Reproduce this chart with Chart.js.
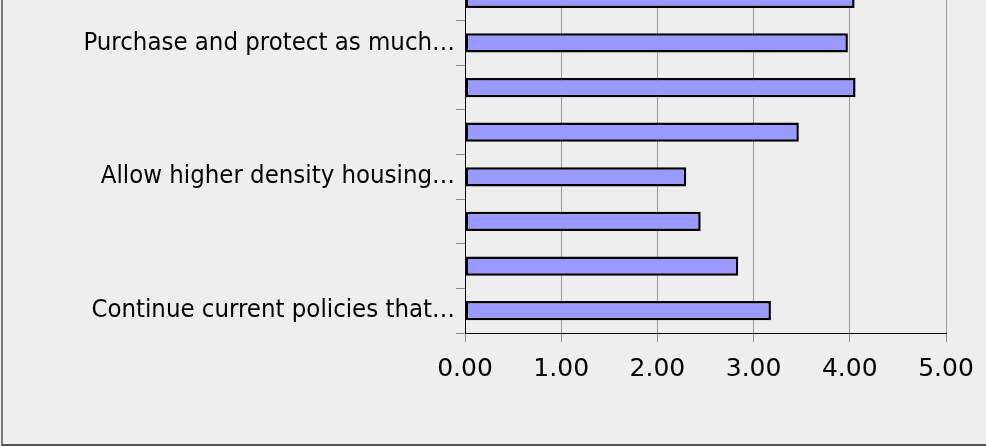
<!DOCTYPE html>
<html>
<head>
<meta charset="utf-8">
<script src="https://cdn.jsdelivr.net/npm/chart.js@4/dist/chart.umd.min.js"></script>
<style>
  html, body { margin: 0; padding: 0; background: #eeeeee; overflow: hidden; }
  #palco { position: relative; width: 986px; height: 446px; overflow: hidden; background: #eeeeee; }
  #wrap { position: absolute; left: 0; top: -40px; width: 986px; height: 486px; }
  #moldura {
    position: absolute; left: 1px; top: 0; width: 985px; height: 444px;
    border-left: 2px solid #7a7a7a; border-bottom: 2px solid #505050;
    box-sizing: content-box; pointer-events: none;
  }
</style>
</head>
<body>
<div id="palco">
  <div id="wrap"><canvas id="grafico"></canvas></div>
  <div id="moldura"></div>
</div>
<script>
// categories listed bottom-up, as in the original chart; hidden labels left blank
const categorias = [
  "Continue current policies that…",
  "",
  "",
  "Allow higher density housing…",
  "",
  "",
  "Purchase and protect as much…",
  ""
];
const medias = [3.18, 2.84, 2.45, 2.30, 3.47, 4.06, 3.98, 4.05];
const ticks_x = [0, 1, 2, 3, 4, 5];

const fonte_rotulos = "'DejaVu Sans Condensed', 'DejaVu Sans', sans-serif";
const fonte_numeros = "'DejaVu Sans', sans-serif";
const grafico = document.getElementById("grafico");

new Chart(grafico, {
  type: "bar",
  data: {
    labels: categorias,
    datasets: [
      {
        label: "Média",
        data: medias,
        backgroundColor: "#9999ff",
        borderColor: "#000000",
        borderWidth: 2.5,
        borderSkipped: false,
        barPercentage: 0.43,
        categoryPercentage: 1,
      },
    ],
  },
  options: {
    indexAxis: "y",
    responsive: true,
    maintainAspectRatio: false,
    animation: false,
    layout: { padding: { left: 0, right: 40, top: 16, bottom: 0 } },
    plugins: { legend: { display: false }, tooltip: { enabled: false } },
    scales: {
      x: {
        min: ticks_x[0],
        max: ticks_x[ticks_x.length - 1],
        afterBuildTicks: (scale) => { scale.ticks = ticks_x.map((v) => ({ value: v })); },
        afterFit: (scale) => { scale.height = 113; scale.paddingLeft = 0; scale.paddingRight = 0; },
        grid: { color: "#999999", lineWidth: 1, tickLength: 9, tickColor: "#888888" },
        border: { color: "#000000", width: 1 },
        ticks: {
          color: "#000000",
          padding: 12,
          font: { family: fonte_numeros, size: 25 },
          callback: (v) => Number(v).toFixed(2),
        },
      },
      y: {
        reverse: true,
        afterFit: (scale) => { scale.width = 465; scale.paddingTop = 0; scale.paddingBottom = 0; },
        grid: { drawOnChartArea: false, tickLength: 9, color: "#888888", offset: true },
        border: { color: "#000000", width: 1 },
        ticks: {
          color: "#000000",
          padding: 1,
          autoSkip: false,
          font: { family: fonte_rotulos, size: 25.5 },
        },
      },
    },
  },
});
</script>
</body>
</html>
